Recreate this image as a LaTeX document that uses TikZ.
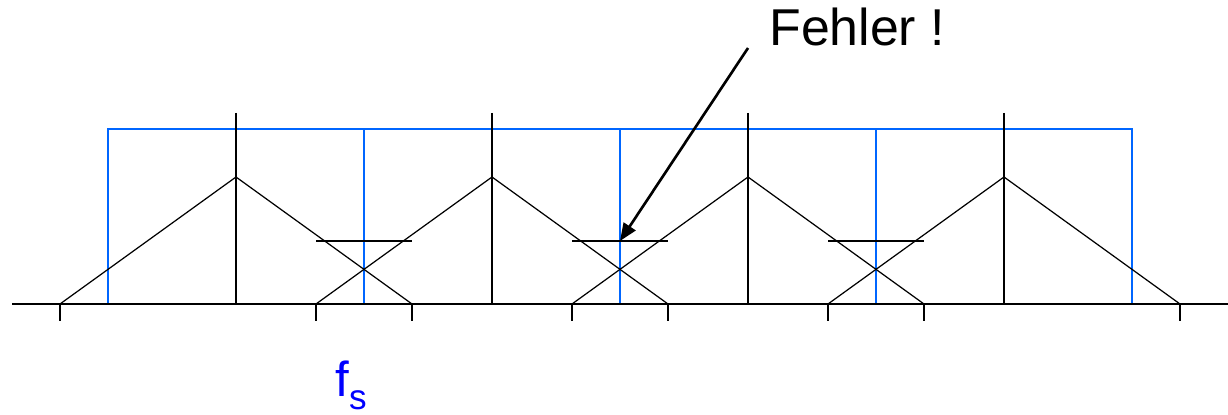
\documentclass[tikz,border=0pt]{standalone}
\usepackage{fontspec}
\setmainfont{Liberation Sans}
\usetikzlibrary{positioning,arrows.meta}
\definecolor{specblue}{HTML}{0066FF}
\definecolor{labelblue}{HTML}{0000FF}

\begin{document}
\begin{tikzpicture}[x=0.02cm,y=-0.02cm,
      axis/.style={black,line width=1.4pt},
      tri/.style={black,line width=0.7pt},
      win/.style={specblue,line width=1.4pt},
      arr/.style={-{Triangle[length=10pt,width=8pt]},black,line width=1.5pt}]
    \useasboundingbox (0,0) rectangle (1228,415);
    % blue window
    \draw[win] (108,304) -- (108,129) -- (1132,129) -- (1132,304);
    \foreach \c in {364,620,876}
      \draw[win] (\c,129) -- (\c,304);
    % axis and spectra
    \draw[axis] (12,304) -- (1228,304);
    \foreach \c in {236,492,748,1004}{
      \draw[axis] (\c,113) -- (\c,304);
      \draw[tri] (\c-176,304) -- (\c,177) -- (\c+176,304);
      \draw[axis] (\c-176,304) -- (\c-176,321);
      \draw[axis] (\c+176,304) -- (\c+176,321);
    }
    \foreach \c in {364,620,876}
      \draw[axis] (\c-48,241) -- (\c+48,241);
    \node[font=\fontsize{29.5}{33}\selectfont,anchor=base west,inner sep=0pt] (fehler) at (769,46) {Fehler !};
    \coordinate (err) at (620,241);
    \draw[arr] ([xshift=-0.42cm,yshift=-0.04cm]fehler.base west) -- (err);
    \node[labelblue,font=\fontsize{28}{32}\selectfont,anchor=base west,inner sep=0pt] (fs) at (335,397)
      {f\raisebox{-7pt}{\fontsize{20}{22}\selectfont s}};
  \end{tikzpicture}
\end{document}
